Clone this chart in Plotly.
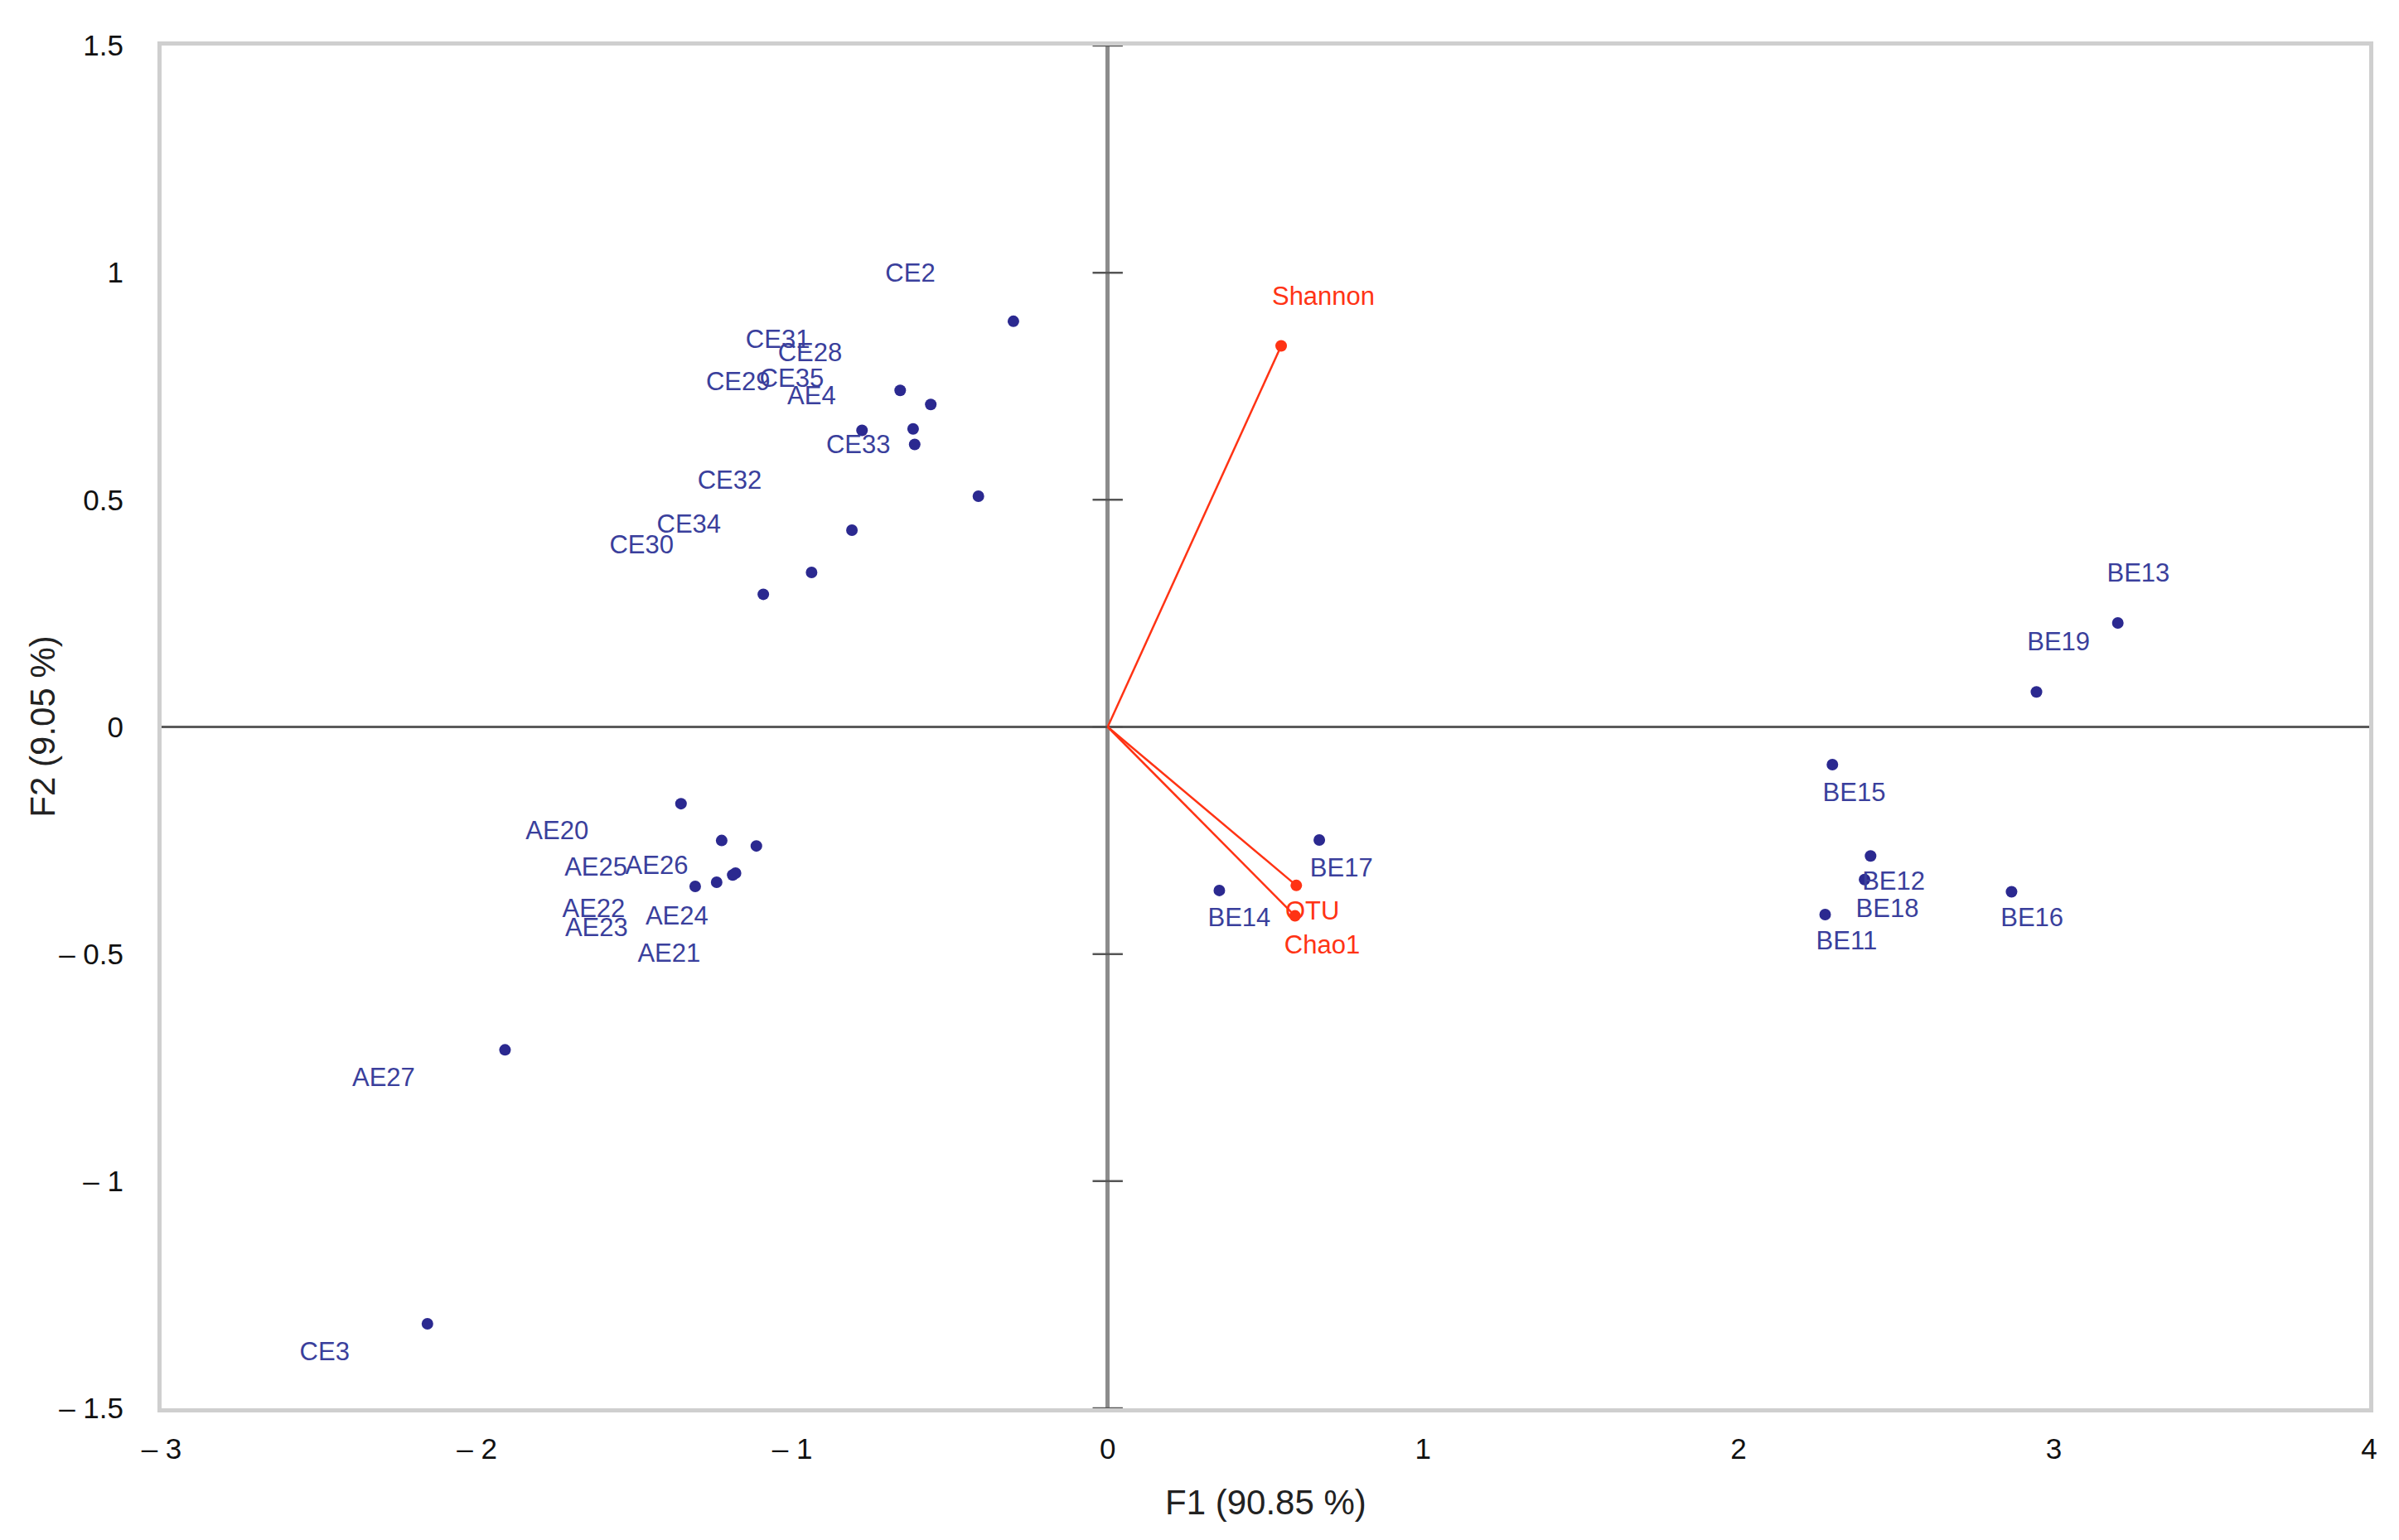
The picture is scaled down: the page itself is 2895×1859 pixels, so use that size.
import plotly.graph_objects as go

# -------------------------------
# Observations (PCA scores, F1 / F2)
# -------------------------------
obs_names = ["CE2", "CE31", "CE28", "CE29", "CE35", "AE4", "CE33", "CE32", "CE34", "CE30",
             "AE20", "AE25", "AE26", "AE22", "AE23", "AE24", "AE21", "AE27", "CE3",
             "BE13", "BE19", "BE15", "BE12", "BE18", "BE11", "BE16", "BE17", "BE14"]
obs_f1 = [-0.299, -0.658, -0.561, -0.779, -0.617, -0.612, -0.410, -0.811, -0.939, -1.092,
          -1.353, -1.224, -1.114, -1.240, -1.308, -1.180, -1.189, -1.911, -2.157,
          3.203, 2.945, 2.298, 2.419, 2.400, 2.275, 2.866, 0.671, 0.354]
obs_f2 = [0.893, 0.741, 0.710, 0.653, 0.656, 0.622, 0.508, 0.433, 0.340, 0.292,
          -0.169, -0.250, -0.262, -0.342, -0.351, -0.322, -0.326, -0.711, -1.314,
          0.229, 0.077, -0.083, -0.284, -0.336, -0.413, -0.363, -0.249, -0.360]
# where each label sits on the chart (same units as the scores)
obs_label_f1 = [-0.626, -1.046, -0.944, -1.172, -1.002, -0.939, -0.791, -1.199, -1.328, -1.478,
                -1.746, -1.623, -1.430, -1.630, -1.621, -1.366, -1.391, -2.296, -2.483,
                3.268, 3.015, 2.367, 2.492, 2.472, 2.343, 2.931, 0.741, 0.417]
obs_label_f2 = [0.995, 0.848, 0.820, 0.756, 0.763, 0.725, 0.616, 0.539, 0.441, 0.396,
                -0.233, -0.313, -0.309, -0.405, -0.446, -0.420, -0.502, -0.776, -1.380,
                0.334, 0.182, -0.149, -0.344, -0.404, -0.475, -0.424, -0.315, -0.425]

# -------------------------------
# Variables (loadings)
# -------------------------------
var_names = ["Shannon", "OTU", "Chao1"]
var_f1 = [0.550, 0.598, 0.594]
var_f2 = [0.839, -0.349, -0.416]
var_label_f1 = [0.684, 0.649, 0.680]
var_label_f2 = [0.944, -0.409, -0.484]

# -------------------------------
# Axis ticks
# -------------------------------
x_ticks = [-3, -2, -1, 0, 1, 2, 3, 4]
x_ticktext = ["\u2013 3", "\u2013 2", "\u2013 1", "0", "1", "2", "3", "4"]
y_ticks = [-1.5, -1, -0.5, 0, 0.5, 1, 1.5]
y_ticktext = ["\u2013 1.5", "\u2013 1", "\u2013 0.5", "0", "0.5", "1", "1.5"]

BLUE = "#2b2990"
LABEL_BLUE = "#3a3f9c"
RED = "#ff3314"
LABEL_FONT = "Liberation Sans Narrow, Liberation Sans, Arial"

fig = go.Figure()

# tick marks crossing the vertical axis through the origin
fig.add_trace(go.Scatter(
    x=[0] * len(y_ticks), y=y_ticks, mode="markers", hoverinfo="skip",
    marker=dict(symbol="line-ew", size=26, line=dict(color="#555555", width=2.5)),
    cliponaxis=False,
))

# loading vectors from origin
vx, vy = [], []
for a, b in zip(var_f1, var_f2):
    vx += [0, a, None]
    vy += [0, b, None]
fig.add_trace(go.Scatter(x=vx, y=vy, mode="lines", line=dict(color=RED, width=2.5), hoverinfo="skip"))
fig.add_trace(go.Scatter(x=var_f1, y=var_f2, mode="markers", marker=dict(color=RED, size=14),
                         text=var_names, hoverinfo="text"))
fig.add_trace(go.Scatter(x=var_label_f1, y=var_label_f2, mode="text", text=var_names,
                         textfont=dict(family=LABEL_FONT, size=31, color=RED), hoverinfo="skip"))

# observations
fig.add_trace(go.Scatter(x=obs_f1, y=obs_f2, mode="markers", marker=dict(color=BLUE, size=14),
                         text=obs_names, hoverinfo="text"))
fig.add_trace(go.Scatter(x=obs_label_f1, y=obs_label_f2, mode="text", text=obs_names,
                         textfont=dict(family=LABEL_FONT, size=31, color=LABEL_BLUE), hoverinfo="skip"))

axis_common = dict(
    showgrid=False, zeroline=True, showline=True, mirror=True,
    linecolor="#cfcfcf", linewidth=5, ticks="",
    tickfont=dict(family=LABEL_FONT, size=35, color="#111111"),
)
fig.update_xaxes(range=[-3, 4], tickvals=x_ticks, ticktext=x_ticktext,
                 zerolinecolor="#8c8c8c", zerolinewidth=4.5, ticklabelstandoff=14, **axis_common)
fig.update_yaxes(range=[-1.5, 1.5], tickvals=y_ticks, ticktext=y_ticktext,
                 zerolinecolor="#5a5a5a", zerolinewidth=3, ticklabelstandoff=34, **axis_common)

fig.add_annotation(text="F1 (90.85 %)", xref="paper", yref="paper", x=0.5, y=-0.069,
                   showarrow=False, yanchor="middle",
                   font=dict(family="Liberation Sans, Arial", size=42, color="#222222"))
fig.add_annotation(text="F2 (9.05 %)", xref="paper", yref="paper", x=-0.054, y=0.5,
                   showarrow=False, textangle=-90, xanchor="center",
                   font=dict(family="Liberation Sans, Arial", size=42, color="#222222"))

fig.update_layout(
    width=2895, height=1859,
    margin=dict(l=187, r=44, t=47, b=167),
    plot_bgcolor="white", paper_bgcolor="white",
    showlegend=False,
)

fig.write_html("out.html")
